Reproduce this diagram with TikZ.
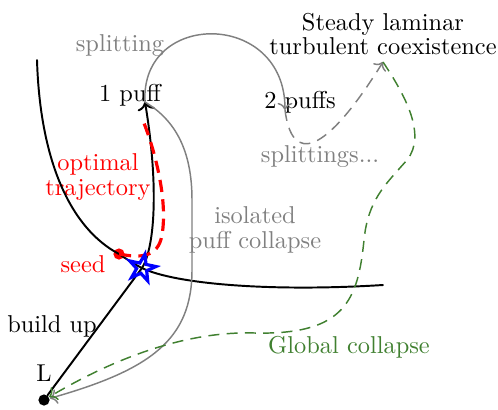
\documentclass[tikz,border=0pt]{standalone}
\usepackage{xcolor}
\usepackage{amsmath}
\usepackage{tikz}
\usetikzlibrary{arrows.meta,shapes.geometric}

\definecolor{gcol}{RGB}{64,128,48}

\begin{document}
\begin{tikzpicture}[x=0.41pt,y=-0.41pt,
  lbl/.style={align=center,inner sep=1pt},
  traj/.style={thick,line cap=round},
  gtraj/.style={draw=gray,semithick},
  longdash/.style={dash pattern=on 4.5pt off 3pt},
  dot/.style={circle,inner sep=0pt,minimum size=4.6pt}]
  \useasboundingbox (0,0) rectangle (498,409);
  % states
  \node[dot,fill=black] (L) at (44,400) {};
  \node[dot,fill=red] (seed) at (119,254) {};
  \coordinate (hubone) at (145,102);
  \coordinate (hubtwo) at (285,110);
  \coordinate (hubcoex) at (383,62);
  \coordinate (optend) at (142,118);
  \coordinate (sepA) at (37,60);
  \coordinate (sepB) at (383,285);
  \coordinate (edge) at (142,268);
  % labels
  \node[lbl] (Llbl) at (44,373) {L};
  \node[lbl] (bu) at (52,326) {build up};
  \node[lbl] (puffone) at (130,95) {1 puff};
  \node[lbl] (pufftwo) at (300,102) {2 puffs};
  \node[lbl] (coex) at (383,34) {Steady laminar\\[-2pt]turbulent coexistence};
  \node[lbl,text=gray] (split) at (120,46) {splitting};
  \node[lbl,text=gray] (splits) at (320,157) {splittings...};
  \node[lbl,text=gray] (iso) at (255,230) {isolated\\[-2pt]puff collapse};
  \node[lbl,text=red] (opt) at (98,177) {optimal\\[-2pt]trajectory};
  \node[lbl,text=red] (seedlbl) at (83,264) {seed};
  \node[lbl,text=gcol] (glob) at (349,347) {Global collapse};
  % edge of chaos
  \draw[traj] (sepA) .. controls (40,160) and (70,228) .. (seed.center)
    .. controls (128,260) and (134,264) .. (edge)
    .. controls (175,284) and (270,292) .. (sepB);
  % transitions
  \draw[traj] (L) -- (edge);
  \draw[traj,->] (edge) .. controls (156,245) and (158,180) .. (hubone);
  \draw[red,line width=1.3pt,dash pattern=on 5pt off 3pt]
    (seed.center) .. controls (140,258) and (158,258) .. (162,235)
    .. controls (168,200) and (155,150) .. (optend);
  \draw[gtraj,->] (hubone) .. controls (140,10) and (285,10) .. (hubtwo);
  \draw[gtraj,->,longdash] (hubtwo) .. controls (292,165) and (325,155) .. (hubcoex);
  \draw[gtraj,->] (hubone) .. controls (175,120) and (192,150) .. (192,200)
    -- (192,270) .. controls (192,340) and (150,370) .. (L);
  \draw[gcol,semithick,longdash,->] (hubcoex) .. controls (405,95) and (427,135) .. (407,160)
    .. controls (385,185) and (368,200) .. (364,240)
    .. controls (358,300) and (345,335) .. (255,333)
    .. controls (190,331) and (120,355) .. (L);
  \node[star,star points=5,star point ratio=2.6,draw=blue,line width=1.3pt,
    inner sep=0pt,minimum size=11.5pt,rotate=-12] (edgestar) at (edge) {};
\end{tikzpicture}
\end{document}
